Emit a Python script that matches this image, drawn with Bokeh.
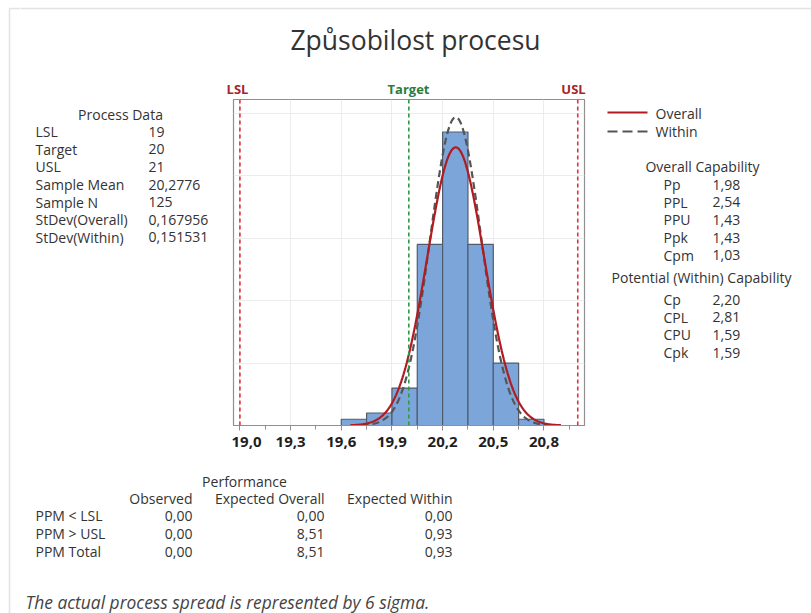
import numpy as np
from bokeh.plotting import figure
from bokeh.layouts import column, row
from bokeh.models import Range1d, FixedTicker, Span
from bokeh.core.properties import value
from bokeh.embed import file_html
from bokeh.resources import INLINE

# ---------------- data ----------------
bin_edges = [19.60, 19.75, 19.90, 20.05, 20.20, 20.35, 20.50, 20.65, 20.80]
bin_counts = [1, 2, 6, 29, 47, 29, 10, 1]

lsl = 19.0
target = 20.0
usl = 21.0
sample_mean = 20.2776
sample_n = 125
stdev_overall = 0.167956
stdev_within = 0.151531
curve_span = [19.655, 20.90]

x_ticks = [19.0, 19.3, 19.6, 19.9, 20.2, 20.5, 20.8]
x_tick_labels = ["19,0", "19,3", "19,6", "19,9", "20,2", "20,5", "20,8"]
x_minor_ticks = [19.15, 19.45, 19.75, 20.05, 20.35, 20.65, 20.95]

title_text = "Způsobilost procesu"
spec_names = ["LSL", "Target", "USL"]
legend_names = ["Overall", "Within"]
process_labels = ["LSL", "Target", "USL", "Sample Mean", "Sample N",
                  "StDev(Overall)", "StDev(Within)"]
process_values = ["19", "20", "21", "20,2776", "125", "0,167956", "0,151531"]
overall_labels = ["Pp", "PPL", "PPU", "Ppk", "Cpm"]
overall_values = ["1,98", "2,54", "1,43", "1,43", "1,03"]
within_labels = ["Cp", "CPL", "CPU", "Cpk"]
within_values = ["2,20", "2,81", "1,59", "1,59"]
perf_columns = ["Observed", "Expected Overall", "Expected Within"]
perf_rows = ["PPM < LSL", "PPM > USL", "PPM Total"]
perf_observed = ["0,00", "0,00", "0,00"]
perf_expected_overall = ["0,00", "8,51", "8,51"]
perf_expected_within = ["0,00", "0,93", "0,93"]
footnote = "The actual process spread is represented by 6 sigma."

# ---------------- geometry (window pixels) ----------------
W, H = 811, 613
STRIP_W = 20          # left strip holding the panel border
TOP_H = 98            # title strip
B_TOP, FRAME_H, B_BOT = 1, 326, 35
MID_H = B_TOP + FRAME_H + B_BOT
BOT_H = H - TOP_H - MID_H
LEFT_W = 231 - STRIP_W
PLOT_W = 355
RIGHT_W = W - STRIP_W - LEFT_W - PLOT_W

FONT = "Open Sans"
TXT = "#333333"
BORDER = "#e2e2e2"
BODY = "14px"


def text_fig(w, h, top=0, bottom=0):
    # data coordinates equal canvas pixels of this figure (y downwards)
    f = figure(width=w, height=h, output_backend="svg", toolbar_location=None,
               x_range=Range1d(0, w), y_range=Range1d(h - bottom, top),
               x_axis_location=None, y_axis_location=None,
               min_border_left=0, min_border_right=0,
               min_border_top=top, min_border_bottom=bottom)
    f.grid.visible = False
    f.outline_line_color = None
    f.background_fill_color = "white"
    f.border_fill_color = "white"
    return f


def put(f, ox, oy, text, px, py, size=BODY, align="left", color=TXT,
        style="normal", baseline="middle"):
    f.text(x=[px - ox], y=[py - oy], text=[text], text_font=value(FONT),
           text_font_size=size, text_align=align, text_baseline=baseline,
           text_color=color, text_font_style=style)


# ---------------- left strip: panel border ----------------
strip = text_fig(STRIP_W, H)
strip.segment(x0=[9, 9], y0=[8, 8], x1=[9, STRIP_W], y1=[H, 8],
              line_color=BORDER, line_width=1.5)

# ---------------- top strip: title + spec labels ----------------
top = text_fig(W - STRIP_W, TOP_H)
OX = STRIP_W
top.segment(x0=[0], y0=[8], x1=[W], y1=[8], line_color=BORDER, line_width=1.5)
put(top, OX, 0, title_text, 415, 39, size="26.5px", align="center")
put(top, OX, 0, spec_names[0], 237, 88.5, size="13px", align="center",
    color="#a8232e", style="bold")
put(top, OX, 0, spec_names[1], 408, 88.5, size="13px", align="center",
    color="#2a7d3c", style="bold")
put(top, OX, 0, spec_names[2], 573, 88.5, size="13px", align="center",
    color="#a8232e", style="bold")

# ---------------- left: process data ----------------
left = text_fig(LEFT_W, MID_H, top=B_TOP, bottom=B_BOT)
OY = TOP_H
put(left, OX, OY, "Process Data", 120, 114, align="center")
row_y = [131, 148.5, 166, 184, 201.5, 219, 236.5]
for name, val, y in zip(process_labels, process_values, row_y):
    put(left, OX, OY, name, 35, y)
    put(left, OX, OY, val, 148, y)

# ---------------- centre: histogram ----------------
p = figure(width=PLOT_W, height=MID_H, output_backend="svg",
           toolbar_location=None,
           x_range=Range1d(18.962, 21.04), y_range=Range1d(0, 52.2),
           y_axis_location=None,
           min_border_left=2, min_border_right=2,
           min_border_top=B_TOP, min_border_bottom=B_BOT)
p.background_fill_color = "white"
p.border_fill_color = "white"
p.outline_line_color = "#8f8f8f"
p.outline_line_width = 1.2

ax = p.xaxis[0]
ax.ticker = FixedTicker(ticks=x_ticks, minor_ticks=x_minor_ticks)
ax.major_label_overrides = {t: s for t, s in zip(x_ticks, x_tick_labels)}
ax.major_label_text_font = FONT
ax.major_label_text_font_size = "15px"
ax.major_label_text_font_style = "bold"
ax.major_label_text_color = "#1f1f1f"
ax.major_label_standoff = 6
ax.axis_line_color = "#8f8f8f"
ax.major_tick_line_color = "#8f8f8f"
ax.minor_tick_line_color = "#8f8f8f"
ax.major_tick_in = 0
ax.major_tick_out = 5
ax.minor_tick_in = 0
ax.minor_tick_out = 4

p.xgrid.ticker = FixedTicker(ticks=x_ticks)
p.ygrid.ticker = FixedTicker(ticks=[10, 20, 30, 40, 50])
p.xgrid.grid_line_color = "#ececec"
p.ygrid.grid_line_color = "#ececec"

p.quad(left=bin_edges[:-1], right=bin_edges[1:], top=bin_counts, bottom=0,
       fill_color="#7ca6da", line_color="#505c6c", line_width=1.2)

bin_width = bin_edges[1] - bin_edges[0]
xs = np.linspace(curve_span[0], curve_span[1], 300)


def normal_counts(sd):
    return (sample_n * bin_width * np.exp(-0.5 * ((xs - sample_mean) / sd) ** 2)
            / (sd * np.sqrt(2 * np.pi)))


WITHIN_STYLE = dict(line_color="#555555", line_width=2.2, line_dash="7 4")
OVERALL_STYLE = dict(line_color="#b01c22", line_width=2.2)
p.line(xs, normal_counts(stdev_within), **WITHIN_STYLE)
p.line(xs, normal_counts(stdev_overall), **OVERALL_STYLE)

for loc, col in [(lsl, "#d9343f"), (usl, "#d9343f"), (target, "#2f9a48")]:
    p.add_layout(Span(location=loc, dimension="height", line_color=col,
                      line_dash="4 3", line_width=1.6))

# ---------------- right: legend + capability ----------------
right = text_fig(RIGHT_W, MID_H, top=B_TOP, bottom=B_BOT)
OXR = STRIP_W + LEFT_W + PLOT_W
right.segment(x0=[607 - OXR], y0=[112 - OY], x1=[647 - OXR], y1=[112 - OY],
              line_color=OVERALL_STYLE["line_color"], line_width=2.2)
right.segment(x0=[607 - OXR], y0=[131 - OY], x1=[647 - OXR], y1=[131 - OY],
              line_color=WITHIN_STYLE["line_color"], line_width=2.2,
              line_dash="10 5")
put(right, OXR, OY, legend_names[0], 655, 113)
put(right, OXR, OY, legend_names[1], 655, 131)

put(right, OXR, OY, "Overall Capability", 702, 166, align="center")
for i, (name, val) in enumerate(zip(overall_labels, overall_values)):
    y = 184 + i * 17.7
    put(right, OXR, OY, name, 663, y)
    put(right, OXR, OY, val, 712, y)
put(right, OXR, OY, "Potential (Within) Capability", 701, 277, align="center")
for i, (name, val) in enumerate(zip(within_labels, within_values)):
    y = 299 + i * 17.7
    put(right, OXR, OY, name, 663, y)
    put(right, OXR, OY, val, 712, y)

# ---------------- bottom: performance table + footnote ----------------
bot = text_fig(W - STRIP_W, BOT_H)
OYB = TOP_H + MID_H
put(bot, OX, OYB, "Performance", 244, 481, align="center")
col_right = [192, 324, 452]
for name, xr in zip(perf_columns, col_right):
    put(bot, OX, OYB, name, xr, 498, align="right")
for i, name in enumerate(perf_rows):
    y = 515 + i * 18
    put(bot, OX, OYB, name, 35, y)
    for vals, xr in zip([perf_observed, perf_expected_overall,
                         perf_expected_within], col_right):
        put(bot, OX, OYB, vals[i], xr, y, align="right")
put(bot, OX, OYB, footnote, 25, 601, size="17.4px", color="#444444",
    style="italic")

main = column(top, row(left, p, right, spacing=0), bot, spacing=0)
layout = row(strip, main, spacing=0)
open("out.html", "w").write(file_html(layout, INLINE))
